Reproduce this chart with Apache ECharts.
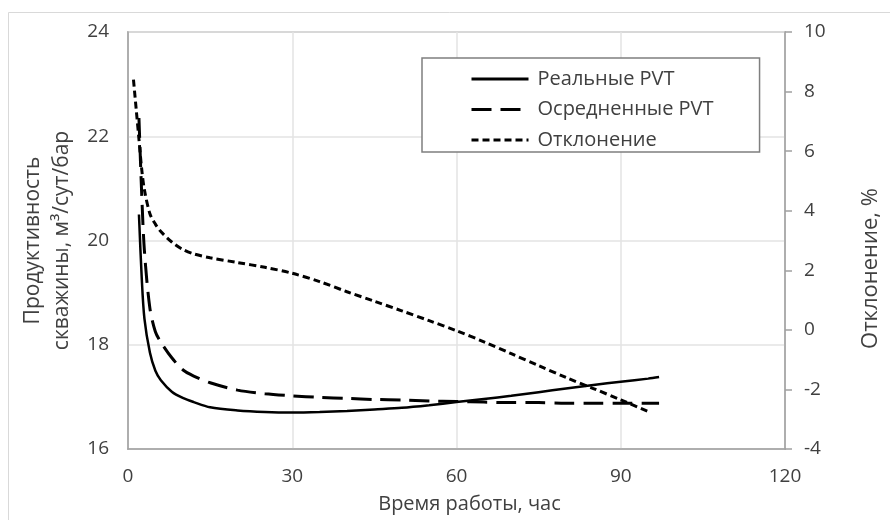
<!DOCTYPE html>
<html><head><meta charset="utf-8">
<script src="https://cdn.jsdelivr.net/npm/echarts@6/dist/echarts.min.js"></script>
<style>html,body{margin:0;padding:0;background:#fff}#c{width:890px;height:520px}</style>
</head><body><div id="c"></div>
<script>
const time = [1, 1.5, 2, 2.5, 3, 4, 5, 6, 8, 10, 12, 15, 20, 25, 30, 35, 40, 45, 50, 55, 60, 65, 70, 75, 80, 85, 90, 95, 97];
const realPVT = [null, null, 20.5, 19.3, 18.5, 17.85, 17.5, 17.32, 17.1, 16.98, 16.9, 16.8, 16.74, 16.71, 16.70, 16.71, 16.73, 16.76, 16.79, 16.84, 16.90, 16.96, 17.02, 17.09, 17.16, 17.23, 17.29, 17.35, 17.38];
const avgPVT = [null, null, 22.35, 20.9, 19.8, 18.7, 18.25, 18.05, 17.75, 17.52, 17.4, 17.27, 17.13, 17.06, 17.02, 16.99, 16.97, 16.95, 16.94, 16.92, 16.91, 16.9, 16.89, 16.89, 16.88, 16.88, 16.88, 16.88, 16.88];
const deviation = [8.4, 7.4, 6.4, 5.4, 4.7, 3.9, 3.55, 3.3, 2.95, 2.7, 2.55, 2.42, 2.26, 2.1, 1.9, 1.62, 1.28, 0.96, 0.64, 0.31, -0.03, -0.4, -0.8, -1.2, -1.6, -1.97, -2.35, -2.74, null];
const seriesNames = ['Реальные PVT', 'Осредненные PVT', 'Отклонение'];
const xTitle = 'Время работы, час';
const yLeftTitle = 'Продуктивность\nскважины, м³/сут/бар';
const yRightTitle = 'Отклонение, %';

const pairs = (ys) => time.map((t, i) => [t, ys[i]]);
const FONT = '"Open Sans", "Noto Sans", sans-serif';
const TXT = '#404040';
const AX = '#a0a0a0';
const GRID = '#e3e3e3';

const chart = echarts.init(document.getElementById('c'), null, {renderer: 'canvas'});
chart.setOption({
  animation: false,
  backgroundColor: '#fff',
  textStyle: {fontFamily: FONT},
  graphic: [{
    type: 'rect', silent: true, z: -10,
    shape: {x: 8.5, y: 12.5, width: 1000, height: 1000},
    style: {fill: 'none', stroke: '#d9d9d9', lineWidth: 1}
  }],
  grid: {left: 128, right: 104, top: 32, bottom: 71, show: true, borderColor: AX, borderWidth: 1.5, backgroundColor: 'transparent'},
  legend: {
    orient: 'vertical', left: 422, top: 58,
    padding: [11, 46, 2, 48],
    itemWidth: 57, itemHeight: 14, itemGap: 10.5,
    borderColor: '#7f7f7f', borderWidth: 1.5, backgroundColor: '#fff',
    itemStyle: {opacity: 0},
    lineStyle: {width: 3},
    textStyle: {fontSize: 20, lineHeight: 20, color: TXT, fontFamily: FONT, padding: [0, 0, 0, 4]},
    data: seriesNames
  },
  xAxis: {
    type: 'value', min: 0, max: 120, interval: 30,
    axisLine: {show: true, onZero: false, lineStyle: {color: AX, width: 1.5}},
    axisTick: {show: false},
    axisLabel: {fontSize: 19, color: TXT, margin: 18, fontFamily: FONT},
    splitLine: {show: true, lineStyle: {color: GRID, width: 1.5}},
    name: xTitle, nameLocation: 'middle', nameGap: 45,
    nameTextStyle: {fontSize: 20, color: TXT, fontFamily: FONT, padding: [0, 0, 0, 26]}
  },
  yAxis: [{
    type: 'value', min: 16, max: 24, interval: 2, position: 'left',
    axisLine: {show: true, onZero: false, lineStyle: {color: AX, width: 1.5}},
    axisTick: {show: false},
    axisLabel: {fontSize: 19, color: TXT, margin: 19, fontFamily: FONT},
    splitLine: {show: true, lineStyle: {color: GRID, width: 1.5}},
    name: yLeftTitle, nameLocation: 'middle', nameGap: 46, nameRotate: 90,
    nameTextStyle: {fontSize: 21, color: TXT, fontFamily: FONT, lineHeight: 29, align: 'center'}
  }, {
    type: 'value', min: -4, max: 10, interval: 2, position: 'right',
    axisLine: {show: true, onZero: false, lineStyle: {color: AX, width: 1.5}},
    axisTick: {show: true, inside: false, length: 7, lineStyle: {color: AX, width: 1.5}},
    axisLabel: {fontSize: 19, color: TXT, margin: 19, fontFamily: FONT},
    splitLine: {show: false},
    name: yRightTitle, nameLocation: 'middle', nameGap: 75, nameRotate: 90,
    nameTextStyle: {fontSize: 22, color: TXT, fontFamily: FONT, padding: [0, 56, 0, 0]}
  }],
  series: [{
    name: seriesNames[0], type: 'line', yAxisIndex: 0, data: pairs(realPVT),
    showSymbol: false, symbol: 'none', smooth: 0.3,
    lineStyle: {color: '#000', width: 2.5, type: 'solid'},
    itemStyle: {color: '#000'}
  }, {
    name: seriesNames[1], type: 'line', yAxisIndex: 0, data: pairs(avgPVT),
    showSymbol: false, symbol: 'none', smooth: 0.3,
    lineStyle: {color: '#000', width: 3, type: [20, 9]},
    itemStyle: {color: '#000'}
  }, {
    name: seriesNames[2], type: 'line', yAxisIndex: 1, data: pairs(deviation),
    showSymbol: false, symbol: 'none', smooth: 0.3,
    lineStyle: {color: '#000', width: 3, type: [7, 4]},
    itemStyle: {color: '#000'}
  }]
});
</script>
</body></html>
